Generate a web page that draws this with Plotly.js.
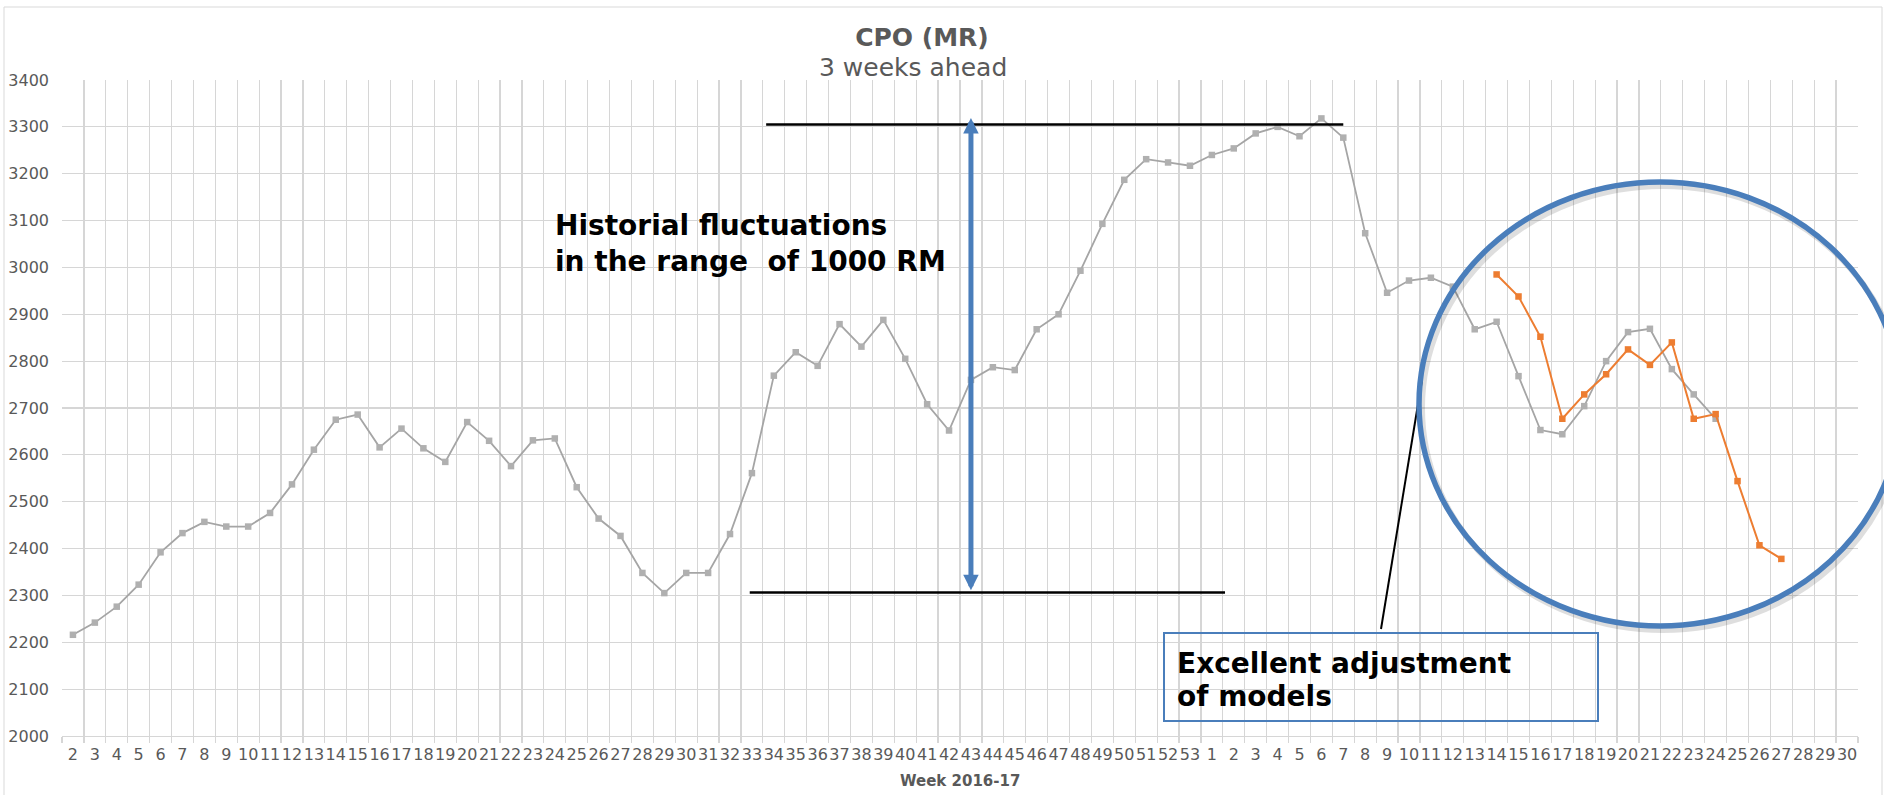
<!DOCTYPE html>
<html>
<head>
<meta charset="utf-8">
<script src="https://cdn.plot.ly/plotly-3.0.1.min.js"></script>
<style>html,body{margin:0;padding:0;background:#fff;}#chart{width:1884px;height:795px;}</style>
</head>
<body>
<div id="chart"></div>
<script>
// Week labels (x categories)
const weeks2016 = [2,3,4,5,6,7,8,9,10,11,12,13,14,15,16,17,18,19,20,21,22,23,24,25,26,27,28,29,30,31,32,33,34,35,36,37,38,39,40,41,42,43,44,45,46,47,48,49,50,51,52,53];
const weeks2017 = [1,2,3,4,5,6,7,8,9,10,11,12,13,14,15,16,17,18,19,20,21,22,23,24,25,26,27,28,29,30];

// Actual CPO price (grey), 2016 weeks 2..53
const actual2016 = [2216,2242,2276,2323,2392,2433,2457,2447,2447,2476,2537,2611,2675,2686,2616,2656,2614,2585,2670,2630,2576,2631,2635,2531,2464,2427,2348,2305,2348,2348,2431,2561,2769,2819,2790,2879,2831,2888,2805,2708,2652,2760,2787,2781,2868,2900,2993,3093,3187,3231,3224,3217];
// Actual CPO price (grey), 2017 weeks 1..30
const actual2017 = [3240,3254,3286,3300,3280,3318,3277,3073,2946,2972,2978,2959,2868,2884,2768,2653,2644,2704,2800,2862,2869,2783,2729,2677,null,null,null,null,null,null];

// Model forecast 3 weeks ahead (orange), 2017 weeks 1..30
const forecast2017 = [null,null,null,null,null,null,null,null,null,null,null,null,null,2985,2938,2852,2677,2729,2772,2825,2792,2840,2677,2687,2544,2407,2378,null,null,null];

const categories = weeks2016.map(w => '2016-' + w).concat(weeks2017.map(w => '2017-' + w));
const tickLabels = weeks2016.concat(weeks2017).map(String);
const actual = actual2016.concat(actual2017);
const forecast = weeks2016.map(() => null).concat(forecast2017);

const FONT = 'DejaVu Sans, Verdana, sans-serif';
const GRID = '#d6d6d6';
const BLUE = '#4a7ebb';

const traces = [
  {
    type: 'scatter', mode: 'lines+markers', x: categories, y: actual,
    line: {color: '#a5a5a5', width: 1.8},
    marker: {symbol: 'square', size: 6.5, color: '#b0b0b0'},
    connectgaps: false, hoverinfo: 'x+y'
  },
  {
    type: 'scatter', mode: 'lines+markers', x: categories, y: forecast,
    line: {color: '#ed7d31', width: 2},
    marker: {symbol: 'square', size: 6.5, color: '#ed7d31'},
    connectgaps: false, hoverinfo: 'x+y'
  }
];

// plot area in pixels: left 62, right 1858, top 80, bottom 736
const L = 62, R = 1858, T = 80, B = 736;
const px = x => (x - L) / (R - L);
const py = y => (B - y) / (B - T);

const note = (text, x, y) => ({
  text: '<b>' + text + '</b>', xref: 'paper', yref: 'paper', x: px(x), y: py(y),
  xanchor: 'left', yanchor: 'middle', align: 'left', showarrow: false,
  font: {family: FONT, size: 28, color: '#000000'}
});

const layout = {
  width: 1884, height: 795,
  margin: {l: L, r: 1884 - R, t: T, b: 795 - B, pad: 0},
  paper_bgcolor: '#ffffff', plot_bgcolor: '#ffffff',
  showlegend: false,
  font: {family: FONT, color: '#595959', size: 16},
  title: {
    text: '<b>CPO (MR)</b>',
    font: {family: FONT, size: 25, color: '#595959'},
    xref: 'container', yref: 'container',
    x: 922 / 1884, y: 1 - 37 / 795, xanchor: 'center', yanchor: 'middle'
  },
  xaxis: {
    type: 'category', categoryorder: 'array', categoryarray: categories,
    range: [-0.5, categories.length - 0.5],
    tickmode: 'array', tickvals: categories, ticktext: tickLabels,
    tickson: 'boundaries',
    showgrid: true, gridcolor: GRID, gridwidth: 1.2,
    showline: true, linecolor: GRID, linewidth: 1.2,
    ticks: 'outside', ticklen: 6, tickcolor: GRID, tickwidth: 1.2,
    tickangle: 0,
    tickfont: {family: FONT, size: 16, color: '#595959'},
    ticklabelstandoff: 4,
    zeroline: false, fixedrange: true
  },
  yaxis: {
    range: [2000, 3400], tick0: 2000, dtick: 100,
    showgrid: true, gridcolor: GRID, gridwidth: 1.2,
    showline: false, zeroline: false, ticks: '',
    tickfont: {family: FONT, size: 16, color: '#595959'},
    ticklabelstandoff: 12, fixedrange: true
  },
  shapes: [
    // chart area border
    {type: 'rect', xref: 'paper', yref: 'paper', x0: px(4), x1: px(1882), y0: py(800), y1: py(7),
     line: {color: '#d9d9d9', width: 1}, layer: 'below'},
    // upper range line
    {type: 'line', xref: 'x', yref: 'y', x0: 31.65, x1: 58, y0: 3305, y1: 3305,
     line: {color: '#000000', width: 2.5}},
    // lower range line
    {type: 'line', xref: 'x', yref: 'y', x0: 30.9, x1: 52.6, y0: 2306, y1: 2306,
     line: {color: '#000000', width: 2.5}},
    // callout box
    {type: 'rect', xref: 'paper', yref: 'paper', x0: px(1164), x1: px(1598), y0: py(721), y1: py(633),
     line: {color: BLUE, width: 2}},
    // leader line
    {type: 'line', xref: 'paper', yref: 'paper', x0: px(1381), y0: py(629), x1: px(1422), y1: py(380),
     line: {color: '#000000', width: 2}},
    // ellipse shadow
    {type: 'circle', xref: 'paper', yref: 'paper', x0: px(1422), x1: px(1904), y0: py(630), y1: py(186),
     line: {color: 'rgba(0,0,0,0.13)', width: 6}},
    // ellipse
    {type: 'circle', xref: 'paper', yref: 'paper', x0: px(1419), x1: px(1901), y0: py(626), y1: py(182),
     line: {color: BLUE, width: 5.5}}
  ],
  annotations: [
    {text: '3 weeks ahead', xref: 'paper', yref: 'paper', x: px(913), y: py(67),
     xanchor: 'center', yanchor: 'middle', showarrow: false,
     font: {family: FONT, size: 25, color: '#595959'}},
    {text: 'Week 2016-17', xref: 'paper', yref: 'paper', x: 0.5, y: py(781),
     xanchor: 'center', yanchor: 'middle', showarrow: false,
     font: {family: FONT, size: 15, color: '#595959', weight: 'bold'}},
    note('Historial fluctuations', 553, 226),
    note('in the range\u00a0 of 1000 RM', 553, 261),
    note('Excellent adjustment', 1175, 663),
    note('of models', 1175, 696),
    // double-headed blue arrow
    {text: '', xref: 'x', yref: 'y', x: 41, y: 3319, axref: 'x', ayref: 'y', ax: 41, ay: 2308,
     showarrow: true, arrowhead: 2, startarrowhead: 2, arrowside: 'end+start',
     arrowsize: 0.62, startarrowsize: 0.62, arrowwidth: 5, arrowcolor: BLUE, standoff: 0, startstandoff: 0}
  ]
};

Plotly.newPlot('chart', traces, layout, {displayModeBar: false, staticPlot: true});
</script>
</body>
</html>
